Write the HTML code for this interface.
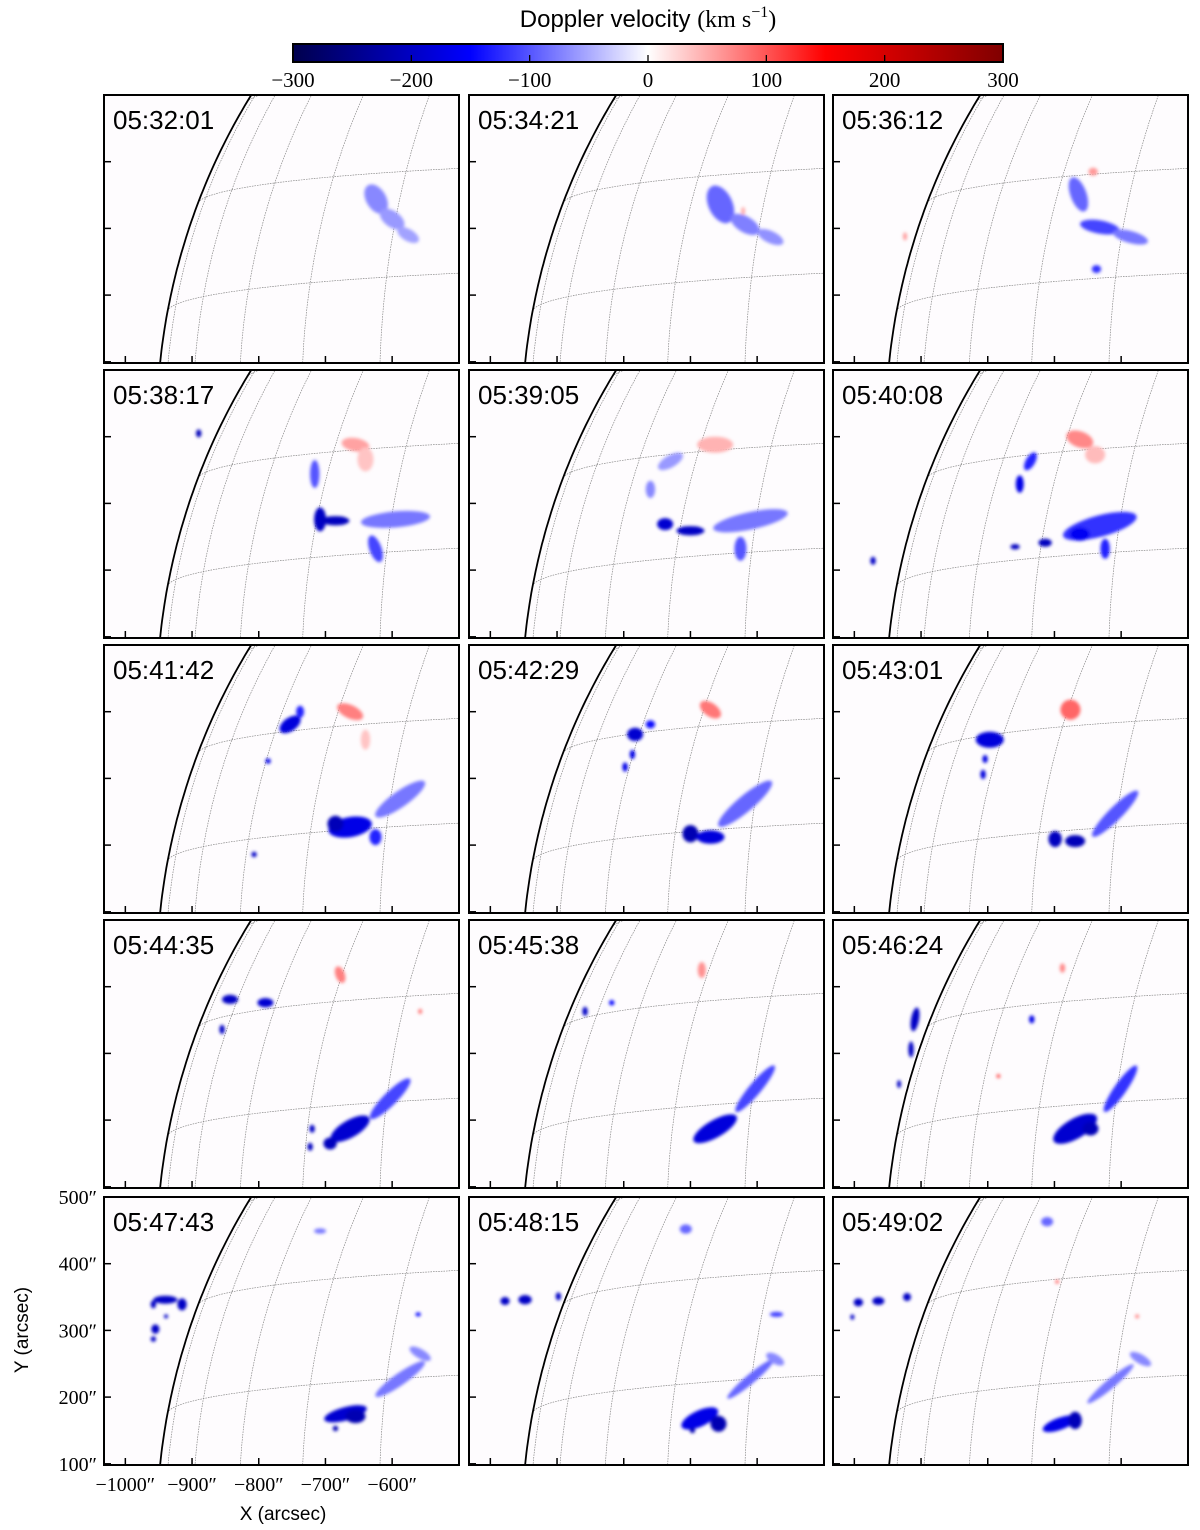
<!DOCTYPE html>
<html><head><meta charset="utf-8">
<style>
html,body{margin:0;padding:0;background:#fff;width:1200px;height:1530px;overflow:hidden;}
svg{display:block;}
.ser{font-family:"Liberation Serif","DejaVu Serif",serif;}
.san{font-family:"Liberation Sans","DejaVu Sans",sans-serif;}
</style></head>
<body>
<svg id="fig" width="1200" height="1530" viewBox="0 0 1200 1530" xmlns="http://www.w3.org/2000/svg">
<defs>
<linearGradient id="cbgrad" x1="0" x2="1" y1="0" y2="0">
<stop offset="0" stop-color="rgb(0,0,77)"/>
<stop offset="0.25" stop-color="rgb(0,0,255)"/>
<stop offset="0.5" stop-color="rgb(255,255,255)"/>
<stop offset="0.75" stop-color="rgb(255,0,0)"/>
<stop offset="1" stop-color="rgb(128,0,0)"/>
</linearGradient>
<filter id="soft" x="-30%" y="-30%" width="160%" height="160%"><feGaussianBlur stdDeviation="1.6"/></filter>
</defs>
<text x="648" y="27" text-anchor="middle" class="san" font-size="24">Doppler velocity <tspan class="ser">(km s</tspan><tspan class="ser" font-size="16" dy="-10">−1</tspan><tspan class="ser" dy="10">)</tspan></text>
<rect x="293" y="44" width="710" height="18" fill="url(#cbgrad)" stroke="#000" stroke-width="2"/>
<g id="cbticks"></g>
<g id="panels"></g>
<text x="283" y="1520" text-anchor="middle" class="san" font-size="19">X (arcsec)</text>
<text x="0" y="0" transform="translate(28,1330) rotate(-90)" text-anchor="middle" class="san" font-size="19">Y (arcsec)</text>
</svg>
<script>
// ---- data ----
const cbTicks = [-300,-200,-100,0,100,200,300];
const xTicks = [-1000,-900,-800,-700,-600];
const yTicks = [100,200,300,400,500];
const latLines = [10.6,20.7,30.8];
const lonLines = [-80.5,-70.5,-60.5,-50.5,-40.5,-30.5];
const frameTimes = ["05:32:01","05:34:21","05:36:12","05:38:17","05:39:05","05:40:08","05:41:42","05:42:29","05:43:01","05:44:35","05:45:38","05:46:24","05:47:43","05:48:15","05:49:02"];
// blobs per frame: [X arcsec, Y arcsec, rx arcsec, ry arcsec, angle deg, velocity km/s]
const blobs0 = [[-624,344,15,24,-30,-70],[-600,314,21,12,35,-60],[-576,290,18,9,30,-55]];
const blobs1 = [[-655,336,18,30,-25,-90],[-618,306,24,12,30,-75],[-580,287,21,9,25,-65],[-621,326,3,6,0,50]];
const blobs2 = [[-664,351,12,27,-20,-90],[-632,302,30,10,10,-110],[-586,287,27,9,15,-80],[-642,385,7,6,0,60],[-637,239,7,6,0,-120],[-924,288,3,6,0,60]];
const blobs3 = [[-890,405,4,6,0,-210],[-655,388,21,10,10,55],[-640,366,12,18,0,35],[-716,344,7,21,0,-100],[-708,276,9,18,0,-200],[-685,274,21,7,0,-205],[-595,276,52,12,-5,-80],[-625,232,9,21,-20,-110]];
const blobs4 = [[-663,388,27,12,0,45],[-730,363,21,9,-30,-60],[-760,321,7,13,0,-70],[-738,269,12,9,0,-190],[-700,259,21,7,0,-200],[-610,274,57,13,-12,-80],[-625,232,9,18,0,-100]];
const blobs5 = [[-662,396,21,12,20,70],[-639,373,15,13,0,40],[-736,363,7,15,30,-130],[-752,329,6,13,0,-170],[-632,266,57,16,-15,-120],[-662,254,15,10,0,-160],[-759,235,7,4,0,-205],[-714,241,10,6,0,-205],[-624,232,7,15,0,-130],[-972,214,4,6,0,-200]];
const blobs6 = [[-663,400,21,10,25,75],[-640,358,7,15,0,35],[-753,381,18,10,-35,-180],[-738,400,6,9,0,-130],[-786,326,4,4,0,-170],[-807,186,4,4,0,-200],[-663,227,33,15,-10,-170],[-685,232,12,12,0,-210],[-588,269,45,12,-35,-80],[-625,212,9,12,0,-130]];
const blobs7 = [[-670,403,18,10,35,80],[-783,366,12,10,0,-190],[-760,381,7,6,0,-140],[-787,336,4,7,0,-170],[-798,317,4,7,0,-170],[-700,217,12,13,0,-215],[-670,212,21,10,0,-180],[-618,262,52,12,-40,-90]];
const blobs8 = [[-676,403,15,15,30,90],[-797,358,21,12,0,-180],[-804,329,4,6,0,-175],[-807,306,4,7,0,-180],[-699,209,10,12,0,-205],[-669,206,15,9,0,-210],[-609,247,48,10,-45,-100]];
const blobs9 = [[-678,418,7,13,-20,75],[-843,381,12,7,0,-200],[-790,376,12,7,0,-190],[-855,336,4,7,0,-200],[-663,187,33,13,-30,-190],[-693,165,10,9,0,-205],[-603,232,42,10,-45,-110],[-720,187,4,6,0,-200],[-723,160,4,6,0,-205],[-558,363,3,4,0,80]];
const blobs10 = [[-683,425,6,12,0,65],[-858,363,4,7,0,-200],[-818,376,4,4,0,-150],[-663,187,37,13,-30,-180],[-603,247,45,9,-50,-110]];
const blobs11 = [[-909,351,6,18,10,-200],[-915,306,4,12,0,-200],[-933,254,3,6,0,-200],[-734,351,4,6,0,-170],[-688,428,4,7,0,70],[-784,266,3,3,0,100],[-669,187,37,15,-30,-190],[-646,187,12,10,0,-210],[-601,247,42,9,-55,-120]];
const blobs12 = [[-940,346,18,6,0,-200],[-915,339,7,9,0,-200],[-958,339,4,6,0,-200],[-955,302,6,7,0,-200],[-958,287,4,4,0,-200],[-939,321,3,3,0,-200],[-708,449,9,4,0,-80],[-670,175,33,10,-15,-190],[-655,171,15,10,0,-215],[-685,153,4,4,0,-215],[-588,227,45,9,-35,-80],[-558,265,18,7,30,-70],[-561,324,4,3,0,-150]];
const blobs13 = [[-978,344,7,6,0,-200],[-948,346,10,7,0,-200],[-898,351,4,6,0,-200],[-707,452,9,7,0,-90],[-571,324,10,4,0,-110],[-686,168,30,12,-25,-170],[-658,160,12,12,0,-215],[-697,150,4,4,0,-215],[-610,227,45,7,-40,-90],[-573,257,15,7,30,-70]];
const blobs14 = [[-994,342,7,6,0,-200],[-964,344,9,6,0,-200],[-921,350,6,6,0,-200],[-1003,320,3,4,0,-200],[-711,463,9,7,0,-90],[-696,373,3,3,0,80],[-576,321,3,3,0,70],[-692,160,27,9,-20,-170],[-669,165,10,13,0,-210],[-616,220,45,7,-40,-80],[-571,257,18,7,30,-70]];
const allBlobs = [blobs0,blobs1,blobs2,blobs3,blobs4,blobs5,blobs6,blobs7,blobs8,blobs9,blobs10,blobs11,blobs12,blobs13,blobs14];

// ---- layout ----
const NS = "http://www.w3.org/2000/svg";
const colLeft = [104,469,833];
const rowTop = [95,370,645,920,1197];
const PW = 355, PH = 268;
const X0 = -1032, Y1 = 500, K = 0.667;
const R = 953, B0 = -4.2*Math.PI/180;
const cbX0 = 293, cbW = 710;

function cbx(v){ return cbX0 + (v+300)/600*cbW; }
function vColor(v){
  const t = Math.max(0,Math.min(1,(v+300)/600));
  const st=[[0,0,0,77],[0.25,0,0,255],[0.5,255,255,255],[0.75,255,0,0],[1,128,0,0]];
  for(let i=0;i<st.length-1;i++){
    if(t<=st[i+1][0]){
      const f=(t-st[i][0])/(st[i+1][0]-st[i][0]);
      const c=[1,2,3].map(j=>Math.round(st[i][j]+(st[i+1][j]-st[i][j])*f));
      return `rgb(${c[0]},${c[1]},${c[2]})`;
    }
  }
  return "rgb(128,0,0)";
}
function mk(tag, attrs, parent){
  const e=document.createElementNS(NS,tag);
  for(const k in attrs) e.setAttribute(k,attrs[k]);
  parent.appendChild(e); return e;
}
function proj(latD, lonD){
  const la=latD*Math.PI/180, lo=lonD*Math.PI/180;
  const X=R*Math.cos(la)*Math.sin(lo);
  const Y=R*(Math.sin(la)*Math.cos(B0)-Math.cos(la)*Math.cos(lo)*Math.sin(B0));
  const Z=R*(Math.sin(la)*Math.sin(B0)+Math.cos(la)*Math.cos(lo)*Math.cos(B0));
  return [X,Y,Z];
}

// colorbar ticks
const cbg=document.getElementById('cbticks');
cbTicks.forEach(v=>{
  const x=cbx(v);
  if(v>-300 && v<300){
    const tk=mk('line',{x1:x,x2:x,y1:62,y2:55,stroke:'#000','stroke-width':1.3},cbg);
    
    
  }
  const t=mk('text',{x:x,y:87,'text-anchor':'middle','font-size':21,class:'ser'},cbg);
  t.textContent=(v<0?'−':'')+Math.abs(v);
  
  
});

const pg=document.getElementById('panels');
frameTimes.forEach((tm,i)=>{
  const L=colLeft[i%3], T=rowTop[Math.floor(i/3)];
  const px=X=>L+(X-X0)*K, py=Y=>T+(Y1-Y)*K;
  const g=mk('g',{},pg);
  
  
  const cid='clip'+i;
  const cp=mk('clipPath',{id:cid},g);
  mk('rect',{x:L,y:T,width:PW,height:PH},cp);
  const bg=mk('rect',{x:L,y:T,width:PW,height:PH,fill:'#fefcfe'},g);
  
  
  const inner=mk('g',{'clip-path':`url(#${cid})`},g);
  const grid=mk('g',{fill:'none',stroke:'#8a8a8a','stroke-width':0.7,'stroke-dasharray':'1.6 1'},inner);
  
  
  latLines.forEach(lat=>{
    let d='',pen=false;
    for(let lo=-100;lo<=10;lo+=0.5){
      const [X,Y,Z]=proj(lat,lo);
      if(Z<0){pen=false;continue;}
      d+=(pen?'L':'M')+px(X).toFixed(1)+' '+py(Y).toFixed(1)+' ';pen=true;
    }
    const p=mk('path',{d:d},grid);
    
    
  });
  lonLines.forEach(lon=>{
    let d='',pen=false;
    for(let la=-20;la<=89;la+=0.5){
      const [X,Y,Z]=proj(la,lon);
      if(Z<0){pen=false;continue;}
      d+=(pen?'L':'M')+px(X).toFixed(1)+' '+py(Y).toFixed(1)+' ';pen=true;
    }
    const p=mk('path',{d:d},grid);
    
    
  });
  let ld='';
  for(let a=90;a<=180;a+=0.5){
    const r=a*Math.PI/180;
    ld+=(a===90?'M':'L')+px(R*Math.cos(r)).toFixed(1)+' '+py(R*Math.sin(r)).toFixed(1)+' ';
  }
  const limb=mk('path',{d:ld,fill:'none',stroke:'#000','stroke-width':1.8},inner);
  
  
  const bgp=mk('g',{filter:'url(#soft)'},inner);
  
  
  allBlobs[i].forEach(b=>{
    const cx=px(b[0]), cy=py(b[1]);
    const e=mk('ellipse',{cx:cx,cy:cy,rx:b[2]*K,ry:b[3]*K,fill:vColor(b[5]),transform:`rotate(${b[4]} ${cx} ${cy})`},bgp);
    
    
  });
  xTicks.forEach(X=>{
    const x=px(X);
    const tk=mk('line',{x1:x,x2:x,y1:T+PH,y2:T+PH-7,stroke:'#000','stroke-width':1.5},g);
    
    
  });
  yTicks.forEach(Y=>{
    const y=py(Y);
    const tk=mk('line',{x1:L,x2:L+7,y1:y,y2:y,stroke:'#000','stroke-width':1.5},g);
    
    
  });
  const fr=mk('rect',{x:L,y:T,width:PW,height:PH,fill:'none',stroke:'#000','stroke-width':2},g);
  
  
  const lab=mk('text',{x:L+9,y:T+34,'font-size':26,class:'san'},g);
  lab.textContent=tm;
  
  
  if(i===12){
    xTicks.forEach(X=>{
      const t=mk('text',{x:px(X),y:T+PH+26,'text-anchor':'middle','font-size':20,class:'ser'},g);
      t.textContent='−'+Math.abs(X)+'″';
      
      
    });
    yTicks.forEach(Y=>{
      const t=mk('text',{x:L-7,y:py(Y)+7,'text-anchor':'end','font-size':20,class:'ser'},g);
      t.textContent=Y+'″';
      
      
    });
  }
});
</script>
</body></html>
